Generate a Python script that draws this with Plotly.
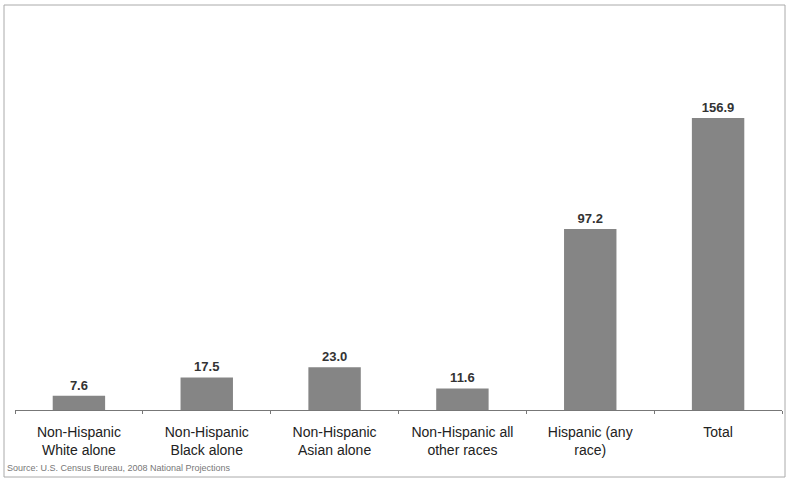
import plotly.graph_objects as go

categories = ["Non-Hispanic<br>White alone", "Non-Hispanic<br>Black alone", "Non-Hispanic<br>Asian alone",
              "Non-Hispanic all<br>other races", "Hispanic (any<br>race)", "Total"]
values = [7.6, 17.5, 23.0, 11.6, 97.2, 156.9]
labels = ["7.6", "17.5", "23.0", "11.6", "97.2", "156.9"]

W, H = 788, 478
ml, mr, mt, mb = 15, 6, 20, 68
pw, ph = W - ml - mr, H - mt - mb

def px(x):
    return (x - ml) / pw

def py(y):
    return (H - mb - y) / ph

fig = go.Figure(go.Bar(
    x=categories, y=values, text=labels, textposition="outside",
    textfont=dict(family="Liberation Sans, Arial", size=13, color="#333333"),
    marker=dict(color="#858585", line=dict(width=0)),
    cliponaxis=False, width=0.41,
))

fig.update_layout(
    width=W, height=H, margin=dict(l=ml, r=mr, t=mt, b=mb),
    paper_bgcolor="white", plot_bgcolor="white", showlegend=False,
    font=dict(family="Liberation Sans, Arial", color="#333333"),
)
fig.update_traces(texttemplate="<b>%{text}</b>")
fig.update_xaxes(showline=True, linecolor="#777777", linewidth=1, ticks="outside", ticklen=3,
                 tickcolor="#777777", tickson="boundaries", tickfont=dict(size=14, color="#222222"),
                 ticklabelstandoff=9, showgrid=False)
fig.update_yaxes(visible=False, range=[0, 209.5], showgrid=False)

fig.add_shape(type="rect", xref="paper", yref="paper", x0=px(4), x1=px(785), y0=py(477), y1=py(5),
              line=dict(color="#aaaaaa", width=1), layer="below")
fig.add_annotation(text="Source: U.S. Census Bureau, 2008 National Projections", xref="paper", yref="paper",
                   x=px(5), y=py(468), xanchor="left", yanchor="middle", showarrow=False,
                   font=dict(size=9, color="#777777"))

fig.write_html("out.html")
